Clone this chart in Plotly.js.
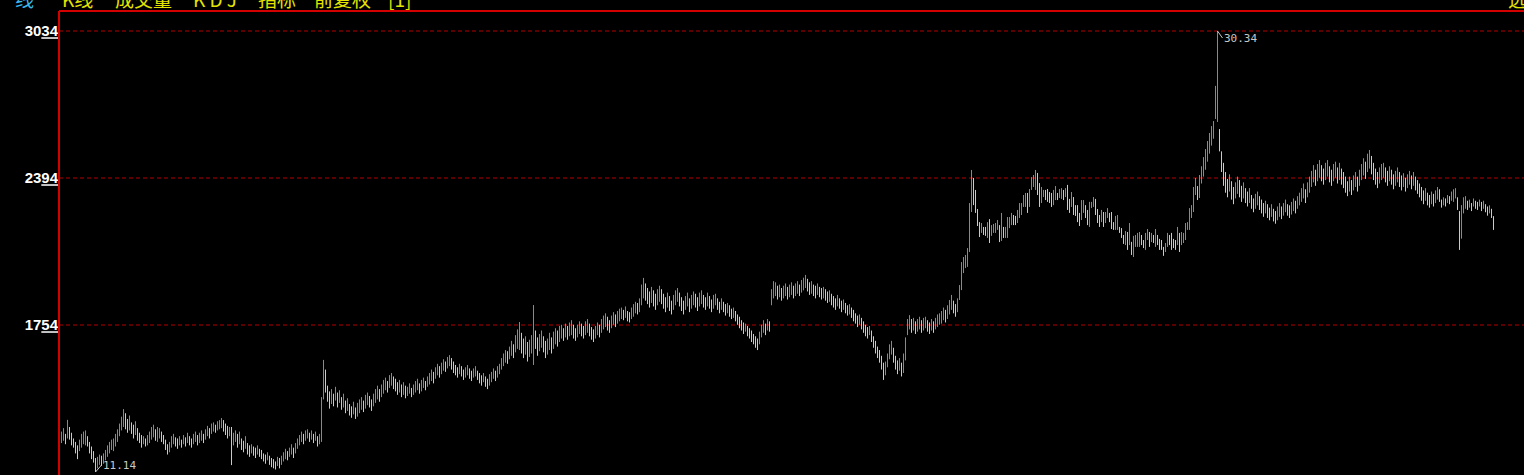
<!DOCTYPE html>
<html><head><meta charset="utf-8">
<script src="https://cdn.plot.ly/plotly-3.0.1.min.js"></script>
<style>html,body{margin:0;padding:0;background:#000;overflow:hidden;}#chart{width:1524px;height:475px;}</style>
</head><body><div id="chart"></div>
<script>
// y-axis tick values and labels
const tickVals = [11.14, 17.54, 23.94, 30.34];
const tickLabels = ['11<u>14</u>', '17<u>54</u>', '23<u>94</u>', '30<u>34</u>'];
// dashed reference levels
const gridLevels = [17.54, 23.94, 30.34];
// header items
const headerItems = ['线', 'K线', '成交量', 'K D J', '指标', '前复权', '[1]'];
const headerRight = '选';

// daily highs (one per trading day)
const high = [
12.90,13.05,12.80,13.41,13.10,12.85,12.60,12.45,12.30,12.55,
12.80,12.90,12.95,12.70,12.45,12.25,12.05,11.75,11.80,11.90,
11.85,11.95,12.10,12.30,12.45,12.55,12.60,12.80,13.00,13.25,
13.55,13.88,13.70,13.45,13.60,13.30,13.20,13.35,13.05,12.85,
12.75,12.70,12.60,12.75,12.90,13.10,13.20,13.00,13.10,13.05,
12.90,12.75,12.55,12.35,12.45,12.70,12.80,12.65,12.60,12.70,
12.55,12.75,12.65,12.85,12.70,12.60,12.80,12.90,12.75,12.85,
12.95,12.80,13.00,13.15,13.05,13.25,13.30,13.20,13.35,13.40,
13.49,13.40,13.25,13.15,13.10,13.10,12.85,12.95,12.80,12.90,
12.60,12.50,12.70,12.40,12.30,12.35,12.25,12.20,12.30,12.15,
12.10,11.95,11.90,12.00,11.85,11.75,11.70,11.60,11.80,11.75,
11.85,12.00,12.15,12.05,12.20,12.35,12.20,12.40,12.60,12.75,
12.90,12.80,12.95,13.00,12.85,12.95,12.80,12.90,12.70,12.80,
14.40,16.02,15.60,14.90,14.65,14.75,14.55,14.85,14.60,14.70,
14.40,14.55,14.25,14.35,14.10,14.00,14.20,13.95,14.15,14.30,
14.40,14.25,14.50,14.60,14.45,14.30,14.55,14.75,14.90,14.75,
14.95,15.15,15.25,15.10,15.36,15.45,15.30,15.20,15.05,15.15,
14.95,15.05,14.90,14.85,15.00,14.80,14.95,15.10,15.20,15.00,
15.15,15.25,15.10,15.30,15.45,15.60,15.50,15.70,15.85,15.75,
15.90,16.05,15.95,16.15,16.23,16.10,15.95,15.80,15.70,15.85,
15.75,15.60,15.70,15.80,15.65,15.55,15.65,15.75,15.55,15.45,
15.35,15.45,15.30,15.20,15.40,15.50,15.65,15.55,15.75,15.85,
16.10,16.30,16.45,16.40,16.60,16.85,16.70,17.10,17.35,17.67,
17.20,16.95,17.05,16.80,16.90,17.10,18.41,17.30,17.00,17.15,
17.30,17.05,16.85,16.95,17.20,17.00,17.25,17.40,17.30,17.50,
17.55,17.40,17.60,17.50,17.65,17.75,17.55,17.40,17.55,17.70,
17.60,17.50,17.70,17.80,17.60,17.45,17.35,17.50,17.65,17.55,
17.80,17.95,18.05,17.90,17.75,17.95,18.10,18.00,18.15,18.25,
18.30,18.20,18.35,18.15,18.10,18.30,18.45,18.55,18.50,18.70,
19.30,19.59,19.35,19.15,19.00,19.20,19.05,18.90,19.10,19.25,
19.10,18.90,18.75,18.95,18.80,18.60,18.85,19.05,19.15,18.95,
18.75,18.60,18.80,18.95,18.70,18.85,19.00,18.90,18.75,18.95,
19.05,18.85,18.75,18.95,18.80,18.65,18.85,18.90,18.70,18.55,
18.70,18.55,18.45,18.50,18.40,18.25,18.30,18.15,18.00,17.90,
17.75,17.65,17.60,17.50,17.40,17.30,17.15,17.05,16.95,17.25,
17.55,17.75,17.60,17.80,17.70,19.10,19.45,19.40,19.25,19.30,
19.15,19.25,19.35,19.20,19.30,19.40,19.25,19.35,19.45,19.30,
19.50,19.60,19.72,19.55,19.40,19.45,19.30,19.25,19.35,19.20,
19.15,19.20,19.10,19.00,19.05,18.90,18.80,18.70,18.85,18.70,
18.60,18.65,18.50,18.40,18.45,18.30,18.20,18.05,17.95,18.00,
17.85,17.70,17.55,17.45,17.50,17.30,17.05,16.85,16.60,16.45,
16.20,15.90,15.95,16.30,16.70,16.85,16.55,16.20,16.00,16.10,
15.90,16.30,17.00,17.80,17.97,17.80,17.85,17.70,17.80,17.90,
17.75,17.85,17.90,17.75,17.65,17.80,17.70,17.85,18.00,18.05,
18.15,18.30,18.20,18.40,18.63,18.85,18.60,18.45,18.70,19.28,
20.28,20.50,20.59,20.89,22.85,24.29,23.94,23.42,22.59,22.02,
21.98,21.81,21.81,22.02,22.15,21.89,21.94,21.98,22.11,21.89,
22.42,21.81,21.81,22.24,22.24,22.42,22.33,22.29,22.55,22.85,
22.85,23.20,23.29,23.29,23.46,23.98,24.07,24.29,24.16,23.72,
23.55,23.42,23.42,23.46,23.33,23.29,23.42,23.59,23.29,23.46,
23.50,23.42,23.50,23.64,23.03,23.33,23.11,22.76,22.76,22.42,
22.98,22.98,22.76,22.55,22.90,22.90,23.11,23.03,22.59,22.33,
22.55,22.46,22.46,22.63,22.42,22.46,22.02,22.29,22.33,21.81,
21.76,21.46,21.63,21.59,21.98,21.16,21.42,21.46,21.55,21.59,
21.46,21.24,21.55,21.72,21.59,21.55,21.46,21.72,21.46,21.29,
21.24,20.94,21.11,21.55,21.46,21.55,21.29,21.24,21.81,21.55,
21.59,21.55,21.98,22.02,22.63,22.76,23.55,23.94,23.59,24.07,
24.45,24.85,25.20,25.55,25.90,26.20,26.42,27.95,30.34,26.07,
25.10,24.60,24.20,23.90,24.10,23.80,23.55,23.75,24.00,23.85,
23.60,23.75,23.50,23.35,23.50,23.20,23.05,23.25,23.35,23.15,
23.00,22.85,22.95,22.80,22.65,22.80,22.60,22.50,22.70,22.85,
22.70,22.85,23.00,22.80,22.75,22.90,23.05,22.95,23.15,23.30,
23.50,23.70,23.45,23.75,24.00,24.25,24.50,24.30,24.55,24.72,
24.50,24.35,24.60,24.72,24.45,24.30,24.55,24.65,24.40,24.60,
24.35,24.20,24.00,23.80,24.00,23.85,24.05,24.20,24.00,24.30,
24.55,24.80,24.65,25.00,25.16,24.90,24.60,24.35,24.20,24.40,
24.55,24.60,24.40,24.25,24.45,24.30,24.10,24.25,24.40,24.20,
24.05,24.15,23.95,24.10,24.25,24.05,24.20,24.00,23.85,23.70,
23.55,23.40,23.50,23.30,23.20,23.35,23.25,23.40,23.55,23.45,
23.00,23.10,23.05,23.20,23.15,23.35,23.45,23.50,23.10,22.50,
22.76,23.10,23.15,22.95,23.00,22.85,23.05,22.95,22.90,23.00,
22.90,22.95,22.80,22.70,22.75,22.60,22.28
];
// daily lows
const low = [
12.40,12.50,12.35,12.60,12.55,12.30,12.20,11.95,11.70,12.05,
12.20,12.35,12.30,12.25,11.95,11.70,11.55,11.14,11.30,11.45,
11.40,11.50,11.65,11.80,11.95,12.10,12.05,12.25,12.45,12.70,
12.95,13.10,13.00,12.85,12.95,12.80,12.60,12.75,12.50,12.40,
12.20,12.35,12.25,12.30,12.40,12.55,12.65,12.50,12.45,12.60,
12.45,12.35,12.10,11.90,12.00,12.20,12.35,12.25,12.15,12.30,
12.20,12.35,12.25,12.40,12.30,12.20,12.35,12.45,12.30,12.40,
12.50,12.40,12.55,12.70,12.60,12.80,12.90,12.85,12.95,13.00,
13.05,12.90,12.75,12.60,12.70,11.44,12.30,12.45,12.20,12.35,
12.10,12.00,12.15,11.90,11.80,11.95,11.85,11.75,11.90,11.80,
11.70,11.60,11.50,11.65,11.45,11.35,11.30,11.25,11.40,11.30,
11.45,11.60,11.70,11.65,11.80,11.90,11.75,11.95,12.15,12.30,
12.45,12.35,12.50,12.60,12.45,12.55,12.40,12.50,12.25,12.35,
12.45,14.30,14.60,14.20,13.90,14.10,14.00,14.25,13.95,14.15,
13.85,13.95,13.70,13.80,13.60,13.50,13.65,13.45,13.55,13.70,
13.85,13.75,13.90,14.05,13.95,13.80,14.00,14.15,14.30,14.20,
14.40,14.55,14.70,14.60,14.80,14.90,14.75,14.65,14.50,14.60,
14.40,14.50,14.35,14.45,14.55,14.40,14.50,14.60,14.70,14.55,
14.65,14.80,14.70,14.85,14.95,15.10,15.00,15.20,15.35,15.25,
15.40,15.55,15.50,15.65,15.75,15.60,15.45,15.35,15.25,15.40,
15.30,15.15,15.25,15.35,15.20,15.10,15.25,15.30,15.15,15.00,
14.90,15.05,14.85,14.75,14.90,15.05,15.20,15.10,15.25,15.40,
15.60,15.75,15.90,15.85,16.05,16.20,16.10,16.35,16.50,16.45,
16.30,16.10,16.25,15.95,16.15,16.30,15.80,16.50,16.20,16.40,
16.55,16.35,16.10,16.25,16.45,16.30,16.50,16.70,16.60,16.80,
16.95,16.85,17.00,16.90,17.05,17.10,16.95,16.85,17.00,17.15,
17.05,16.95,17.10,17.20,17.05,16.90,16.80,16.95,17.10,17.00,
17.20,17.35,17.45,17.30,17.20,17.40,17.55,17.45,17.60,17.70,
17.80,17.75,17.85,17.70,17.65,17.80,17.90,18.05,18.00,18.10,
18.40,18.70,18.60,18.45,18.30,18.50,18.35,18.20,18.40,18.55,
18.45,18.25,18.10,18.30,18.15,18.00,18.20,18.40,18.55,18.35,
18.15,18.00,18.20,18.35,18.10,18.25,18.40,18.30,18.15,18.35,
18.45,18.30,18.20,18.35,18.25,18.10,18.25,18.40,18.20,18.05,
18.20,18.10,17.95,18.05,17.90,17.80,17.85,17.70,17.55,17.40,
17.30,17.15,17.25,17.05,16.95,16.80,16.70,16.55,16.45,16.70,
17.00,17.20,17.10,17.30,17.25,18.40,18.70,18.80,18.65,18.75,
18.60,18.70,18.80,18.65,18.75,18.85,18.70,18.80,18.90,18.80,
18.95,19.05,19.15,19.00,18.85,18.90,18.80,18.70,18.85,18.75,
18.65,18.70,18.60,18.50,18.55,18.40,18.30,18.20,18.35,18.25,
18.10,18.20,18.05,17.95,18.00,17.85,17.70,17.60,17.45,17.55,
17.35,17.20,17.05,16.95,17.10,16.80,16.55,16.30,16.10,15.90,
15.60,15.15,15.35,15.70,16.05,16.25,15.90,15.60,15.40,15.55,
15.30,15.45,16.00,17.10,17.35,17.20,17.30,17.15,17.25,17.35,
17.20,17.30,17.40,17.25,17.15,17.30,17.20,17.35,17.45,17.55,
17.60,17.75,17.65,17.80,18.00,18.20,18.05,17.90,18.10,18.63,
19.06,19.80,20.02,20.07,20.72,22.46,22.76,22.42,21.85,21.37,
21.55,21.46,21.42,21.33,21.11,21.42,21.55,21.55,21.68,21.15,
21.20,21.33,21.33,21.33,21.76,21.89,21.89,21.89,21.98,22.20,
22.33,22.68,22.68,22.42,22.68,23.42,23.55,23.42,23.20,22.68,
22.85,23.11,22.98,22.90,22.85,22.68,22.76,22.98,22.98,23.07,
23.03,22.98,23.11,22.55,22.42,22.68,22.33,22.29,22.02,21.85,
22.11,22.42,22.20,21.89,21.81,22.63,22.68,22.33,21.98,21.81,
22.02,21.81,21.98,22.20,22.02,21.72,21.68,21.68,21.68,21.55,
21.33,21.07,21.02,20.81,21.02,20.59,20.50,20.94,20.94,20.94,
21.02,20.89,20.81,21.24,20.94,21.15,21.11,20.94,21.02,20.81,
20.81,20.55,20.72,20.94,21.02,20.81,20.89,20.81,21.02,20.72,
21.02,21.11,21.24,21.68,21.68,22.20,22.46,23.20,22.98,23.07,
23.70,24.00,24.30,24.65,25.00,25.35,25.65,26.51,26.38,25.10,
24.20,23.60,23.30,23.10,23.35,23.00,22.80,23.05,23.25,23.10,
22.90,23.05,22.85,22.70,22.85,22.60,22.45,22.60,22.75,22.55,
22.40,22.25,22.40,22.20,22.10,22.25,22.05,21.95,22.10,22.25,
22.15,22.30,22.45,22.30,22.20,22.35,22.50,22.40,22.60,22.75,
22.90,23.05,22.85,23.10,23.30,23.55,23.75,23.60,23.80,23.95,
23.80,23.65,23.85,24.00,23.75,23.60,23.80,23.95,23.70,23.85,
23.65,23.50,23.30,23.15,23.35,23.20,23.40,23.55,23.35,23.60,
23.85,24.05,23.90,24.20,24.35,24.10,23.85,23.65,23.50,23.70,
23.85,23.95,23.75,23.60,23.80,23.65,23.45,23.60,23.75,23.55,
23.40,23.55,23.35,23.50,23.65,23.45,23.60,23.40,23.25,23.10,
22.95,22.80,22.95,22.75,22.65,22.80,22.70,22.85,23.00,22.90,
22.65,22.75,22.70,22.85,22.80,22.95,22.90,23.05,22.55,20.81,
21.30,22.40,22.60,22.55,22.65,22.50,22.70,22.60,22.55,22.70,
22.50,22.60,22.45,22.30,22.40,22.20,21.68
];

const N = Math.min(high.length, low.length);
const upT = {x: [], y: []}, dnT = {x: [], y: []};
for (let i = 0; i < N; i++) {
  const mid = (high[i] + low[i]) / 2;
  const prev = i ? (high[i - 1] + low[i - 1]) / 2 : mid;
  const t = mid >= prev ? upT : dnT;
  t.x.push(i, i, null);
  t.y.push(low[i], high[i], null);
}

let iMax = 0, iMin = 0;
for (let i = 0; i < N; i++) {
  if (high[i] > high[iMax]) iMax = i;
  if (low[i] < low[iMin]) iMin = i;
}

const xRange = [-1.25, 731.25];
const yRange = [11.01, 31.211];

const traces = [
  {type: 'scatter', mode: 'lines', x: upT.x, y: upT.y, line: {color: '#f25c5c', width: 1}, hoverinfo: 'skip', showlegend: false},
  {type: 'scatter', mode: 'lines', x: dnT.x, y: dnT.y, line: {color: '#54fcfc', width: 1}, hoverinfo: 'skip', showlegend: false}
];

const L = 59, W = 1524 - 59, T = 11, H = 475 - 11;
const px = v => (v - L) / W;
const py = v => 1 + (T - v) / H;

const cjk = '"Noto Sans CJK SC", "Noto Sans", sans-serif';
const headerX = [13, 60, 113, 191, 256, 312, 386];
const annotations = headerItems.map((t, k) => ({
  xref: 'paper', yref: 'paper', x: px(headerX[k]), y: py(-1), xanchor: 'left', yanchor: 'middle',
  text: t, showarrow: false, font: {family: cjk, size: 19, color: k === 0 ? '#39b8f0' : '#e4e400'}
}));
annotations.push({xref: 'paper', yref: 'paper', x: px(1506), y: py(-1), xanchor: 'left', yanchor: 'middle',
  text: headerRight, showarrow: false, font: {family: cjk, size: 19, color: '#e4e400'}});
annotations.push({x: iMax, y: high[iMax], text: high[iMax].toFixed(2), showarrow: true, arrowhead: 0,
  arrowwidth: 1, arrowcolor: '#c8c8c8', ax: 5, ay: 7, standoff: 0, borderpad: 0,
  xanchor: 'left', yanchor: 'middle',
  font: {family: '"DejaVu Sans Mono", monospace', size: 11, color: '#c8c8c8'}});
annotations.push({x: iMin, y: low[iMin], text: low[iMin].toFixed(2), showarrow: true, arrowhead: 0,
  arrowwidth: 1, arrowcolor: '#c8c8c8', ax: 6, ay: -7, standoff: 0, borderpad: 0,
  xanchor: 'left', yanchor: 'middle',
  font: {family: '"DejaVu Sans Mono", monospace', size: 11, color: '#c8c8c8'}});

const shapes = gridLevels.map(v => ({
  type: 'line', xref: 'paper', yref: 'y', x0: 0, x1: 1, y0: v, y1: v,
  line: {color: '#b40000', width: 1, dash: '4px,3px'}, layer: 'below'
}));
// frame: top border and left axis line of the plot area
shapes.push({type: 'line', xref: 'paper', yref: 'paper', x0: 0, x1: 1, y0: 1, y1: 1,
  line: {color: '#d40000', width: 2}, layer: 'above'});
shapes.push({type: 'line', xref: 'paper', yref: 'paper', x0: 0, x1: 0, y0: 1, y1: py(476),
  line: {color: '#d40000', width: 2}, layer: 'above'});

const layout = {
  width: 1524, height: 475,
  paper_bgcolor: '#000', plot_bgcolor: '#000',
  margin: {l: L, r: 0, t: T, b: 0, pad: 0},
  showlegend: false,
  xaxis: {range: xRange, showgrid: false, zeroline: false, showticklabels: false, ticks: '',
    showline: false, fixedrange: true},
  yaxis: {range: yRange, tickvals: tickVals, ticktext: tickLabels, ticks: '',
    tickfont: {family: '"Liberation Sans", Arial, sans-serif', size: 15, color: '#ffffff', weight: 'bold'},
    showgrid: false, zeroline: false, showline: false, fixedrange: true},
  shapes: shapes,
  annotations: annotations
};

Plotly.newPlot('chart', traces, layout, {staticPlot: true, displayModeBar: false});
</script>
</body></html>
